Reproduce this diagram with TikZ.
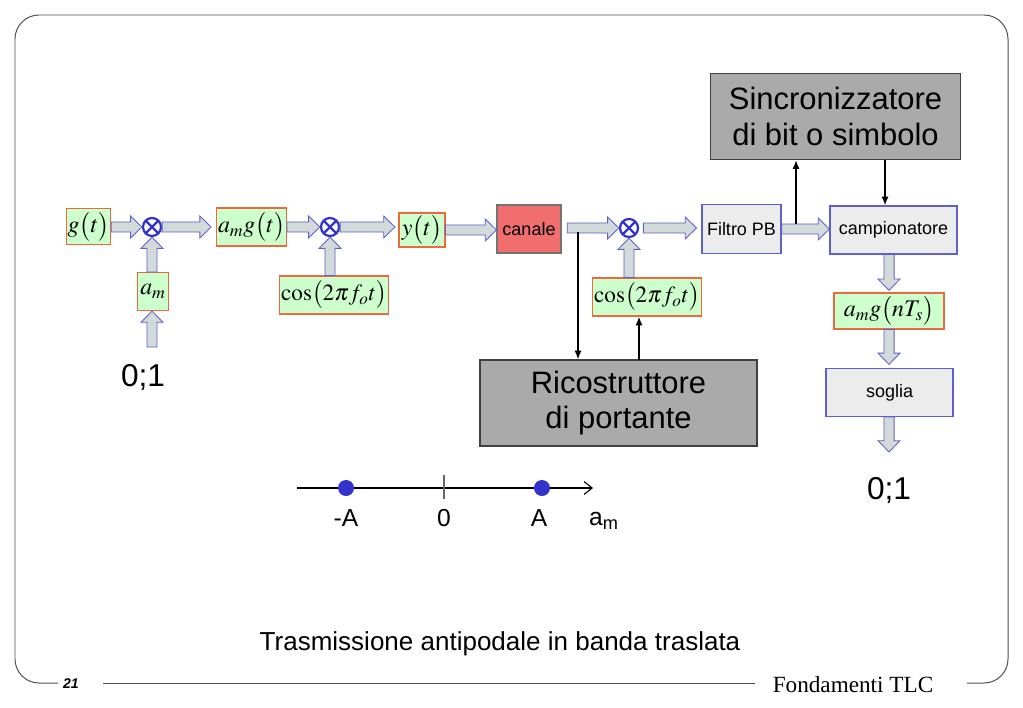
\documentclass[tikz,border=0pt]{standalone}
\usepackage{mathptmx}
\usepackage[no-math]{fontspec}
\setmainfont{Liberation Sans}
\newfontfamily\serifft{Liberation Serif}
\usetikzlibrary{arrows.meta, positioning, calc}
\definecolor{boxgreen}{RGB}{204,255,204}
\definecolor{boxred}{RGB}{235,105,60}
\definecolor{arrblue}{RGB}{95,95,205}
\definecolor{arrfill}{RGB}{210,218,218}
\definecolor{mulblue}{RGB}{51,51,204}
\definecolor{chanred}{RGB}{240,110,110}
\definecolor{boxgray}{RGB}{236,236,236}
\definecolor{midgray}{RGB}{170,170,170}
\definecolor{framegray}{RGB}{80,80,80}

\begin{document}
\begin{tikzpicture}[
  x=0.025cm, y=-0.025cm,
  mbox/.style={
    draw=boxred, fill=boxgreen, line width=0.8pt,
    inner sep=1pt, font=\fontsize{17}{19}\selectfont
  },
  pbox/.style={
    draw=arrblue, fill=boxgray, line width=0.8pt,
    inner sep=2pt, font=\fontsize{12.8}{15}\selectfont
  },
  bigbox/.style={
    draw=black!75, fill=midgray, line width=0.8pt,
    align=center, font=\fontsize{22}{25}\selectfont
  },
  mul/.style={
    circle, draw=mulblue, line width=1.6pt, minimum size=0.45cm, inner sep=0pt,
    path picture={\draw[mulblue, line width=1.6pt]
      (path picture bounding box.north west) -- (path picture bounding box.south east)
      (path picture bounding box.north east) -- (path picture bounding box.south west);}
  },
  fat/.style={
    draw=arrblue, fill=arrfill, line width=0.6pt,
    to path={let \p1=(\tikztostart), \p2=(\tikztotarget),
      \n1={atan2(\y2-\y1,\x2-\x1)}, \n2={veclen(\x2-\x1,\y2-\y1)} in
      [shift={(\p1)}, rotate=\n1]
      (0pt,-3.6pt) -- ({\n2*1pt-8pt},-3.6pt) -- ({\n2*1pt-8pt},-7.8pt) -- ({\n2*1pt},0pt)
      -- ({\n2*1pt-8pt},7.8pt) -- ({\n2*1pt-8pt},3.6pt) -- (0pt,3.6pt) -- cycle}
  },
  sig/.style={-{Latex[length=2.2mm, width=1.8mm]}, line width=1.3pt},
  dot/.style={circle, fill=mulblue, minimum size=0.4cm, inner sep=0pt},
  axlab/.style={font=\fontsize{17.5}{20}\selectfont},
  biglab/.style={font=\fontsize{22.5}{25}\selectfont},
  frame/.style={draw=framegray, line width=0.7pt}
]
  \useasboundingbox (0,0) rectangle (1023,708);

  % cornice
  \draw[frame, rounded corners=0.6cm] (58,683) -- (15,683) -- (15,15) -- (1008,15) -- (1008,683) -- (967,683);
  \draw[frame] (103,683) -- (755,683);

  % trasmettitore
  \node[mbox, minimum width=1.1cm, minimum height=0.9cm] (gt) at (88.5,226.5) {$g\bigl(t\bigr)$};
  \node[mul] (mulA) at (152,227) {};
  \node[mbox, minimum width=0.775cm, minimum height=0.95cm] (am) at (153,291.5) {$a_m$};
  \coordinate (srcA) at (152,347);
  \node[biglab] (bitsA) at (143,377) {0;1};
  \node[mbox, minimum width=1.7cm, minimum height=0.95cm] (amgt) at (251.5,227) {$a_m g\bigl(t\bigr)$};
  \node[mul] (mulB) at (330,227) {};
  \node[mbox, minimum width=2.45cm, minimum height=0.95cm, font=\fontsize{16.5}{19}\selectfont] (cosA) at (334,295) {$\cos\bigl(2\pi f_o t\bigr)$};
  \node[mbox, minimum width=1.15cm, minimum height=0.85cm] (yt) at (422,230) {$y\bigl(t\bigr)$};

  % canale e ricevitore
  \node[pbox, fill=chanred, draw=black!55, minimum width=1.6cm, minimum height=1.2cm] (canale) at (529,229) {canale};
  \node[mul] (mulC) at (629,228) {};
  \node[mbox, minimum width=2.45cm, minimum height=0.95cm, font=\fontsize{16.5}{19}\selectfont] (cosB) at (647,297) {$\cos\bigl(2\pi f_o t\bigr)$};
  \node[pbox, minimum width=1.975cm, minimum height=1.225cm] (filtro) at (741.5,229) {Filtro PB};
  \node[pbox, minimum width=3.175cm, minimum height=1.2cm] (camp) at (893.5,230) {campionatore};
  \node[mbox, minimum width=2.75cm, minimum height=0.9cm] (amgn) at (889,311) {$a_m g\bigl(nT_s\bigr)$};
  \node[pbox, minimum width=3.175cm, minimum height=1.2cm] (soglia) at (889.5,392.5) {soglia};
  \coordinate (outS) at (889,452);
  \node[biglab] (bitsB) at (889,490) {0;1};
  \node[bigbox, minimum width=6.25cm, minimum height=2.15cm] (sincr) at (835.5,116.5) {Sincronizzatore\\di bit o simbolo};
  \node[bigbox, minimum width=6.925cm, minimum height=2.15cm] (ricostr) at (618.5,403) {Ricostruttore\\di portante};

  % frecce a blocco
  \draw[fat] (gt.east |- mulA.west) to (mulA.west);
  \draw[fat] (am.north -| mulA.south) to (mulA.south);
  \draw[fat] (srcA) to (srcA |- am.south);
  \draw[fat] (mulA.east) to ([xshift=-3.5pt]amgt.west |- mulA.east);
  \draw[fat] (amgt.east |- mulB.west) to (mulB.west);
  \draw[fat] (cosA.north -| mulB.south) to (mulB.south);
  \draw[fat] (mulB.east) to ([xshift=-2.5pt]yt.west |- mulB.east);
  \draw[fat] (yt.east) to (canale.west |- yt.east);
  \draw[fat] ([xshift=4pt]canale.east |- mulC.west) to (mulC.west);
  \draw[fat] (cosB.north -| mulC.south) to (mulC.south);
  \draw[fat] ([xshift=3pt]mulC.east) to ([xshift=-3.5pt]filtro.west |- mulC.east);
  \draw[fat] (filtro.east) to (camp.west |- filtro.east);
  \draw[fat] (camp.south -| amgn.north) to ([yshift=1.5pt]amgn.north);
  \draw[fat] (amgn.south) to ([yshift=2.5pt]soglia.north -| amgn.south);
  \draw[fat] (soglia.south -| outS) to (outS);

  % frecce di sincronismo
  \coordinate (tapC) at (578,232);
  \coordinate (upR) at (639,360);
  \coordinate (tapF) at (796,224);
  \coordinate (dnS) at (885,160);
  \draw[sig] (tapC) -- (tapC |- ricostr.north);
  \draw[sig] (upR) -- (upR |- cosB.south);
  \draw[sig] (tapF) -- (tapF |- sincr.south);
  \draw[sig] (dnS) -- (dnS |- camp.north);

  % costellazione
  \coordinate (axL) at (297,488);
  \coordinate (axR) at (593,488);
  \draw[-{Straight Barb[length=2mm, width=3.2mm]}, line width=0.8pt] (axL) -- (axR);
  \draw[black!60, line width=0.8pt] (444,475) -- (444,499);
  \node[dot] (ptM) at (346,488) {};
  \node[dot] (ptP) at (542,488) {};
  \node[axlab] (labM) at (346,518) {-A};
  \node[axlab] (labZ) at (444,518) {0};
  \node[axlab] (labP) at (539,518) {A};
  \node[axlab] (labA) at (604,521) {a\textsubscript{m}};

  % titolo e piede
  \node[font=\fontsize{18.5}{21}\selectfont] (titolo) at (500,644) {Trasmissione antipodale in banda traslata};
  \node[font=\bfseries\itshape\fontsize{10}{12}\selectfont] (pagina) at (71,684) {21};
  \node[font=\serifft\fontsize{16.5}{19}\selectfont] (corso) at (853,685) {Fondamenti TLC};

\end{tikzpicture}
\end{document}
